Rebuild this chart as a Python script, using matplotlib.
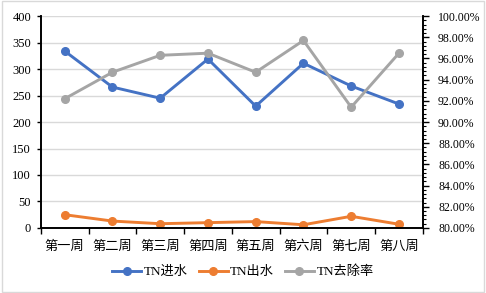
import matplotlib
matplotlib.use("Agg")
import matplotlib.pyplot as plt
from matplotlib.ticker import MultipleLocator, FuncFormatter
from matplotlib.patches import Rectangle

plt.rcParams['font.family'] = ['Liberation Serif', 'Noto Sans CJK SC']

weeks = ['第一周', '第二周', '第三周', '第四周', '第五周', '第六周', '第七周', '第八周']
tn_in = [334, 266, 245, 319, 230, 311, 268, 234]
tn_out = [25, 13, 8, 10, 12, 6, 22, 7]
tn_rate = [92.2, 94.7, 96.3, 96.5, 94.7, 97.7, 91.4, 96.5]

blue = '#4472C4'
orange = '#ED7D31'
gray = '#A5A5A5'

fig = plt.figure(figsize=(4.86, 2.93), dpi=100)
fig.patches.append(Rectangle((0.004, 0.005), 0.992, 0.99, transform=fig.transFigure,
                             fill=False, edgecolor='#D9D9D9', linewidth=1))
ax = fig.add_axes([0.084, 0.222, 0.786, 0.723])
ax2 = ax.twinx()

x = list(range(len(weeks)))
l1, = ax.plot(x, tn_in, color=blue, lw=2.1, marker='o', ms=5.5, label='TN进水')
l2, = ax.plot(x, tn_out, color=orange, lw=2.1, marker='o', ms=5.5, label='TN出水')
l3, = ax2.plot(x, tn_rate, color=gray, lw=2.1, marker='o', ms=5.5, label='TN去除率')

ax.set_xlim(-0.5, 7.5)
ax.set_ylim(0, 400)
ax.yaxis.set_major_locator(MultipleLocator(50))
ax2.set_ylim(80, 100)
ax2.yaxis.set_major_locator(MultipleLocator(2))
ax2.yaxis.set_minor_locator(MultipleLocator(0.4))
ax2.yaxis.set_major_formatter(FuncFormatter(lambda v, p: f'{v:.2f}%'))

ax.set_xticks(x)
ax.set_xticklabels(weeks, fontsize=9.5)
ax.set_xticks([i - 0.5 for i in range(len(weeks) + 1)], minor=True)
ax.tick_params(axis='x', which='major', length=0, pad=9)
ax.tick_params(axis='x', which='minor', length=4, direction='out', width=1)
ax.tick_params(axis='y', labelsize=9, length=3, width=1, direction='out', pad=4)
ax2.tick_params(axis='y', which='major', labelsize=8.5, length=4, width=1, direction='out', pad=7)
ax2.tick_params(axis='y', which='minor', length=2, width=0.8, direction='out')

ax.grid(axis='y', color='#D9D9D9', lw=1)
ax.set_axisbelow(True)
for a in (ax, ax2):
    a.spines['top'].set_visible(False)
    a.spines['left'].set_linewidth(1.2)
    a.spines['right'].set_linewidth(1.2)
    a.spines['bottom'].set_linewidth(1.2)

fig.legend(handles=[l1, l2, l3], loc='center', bbox_to_anchor=(0.5, 0.072), ncol=3,
           frameon=False, fontsize=9.5, handlelength=2.2, columnspacing=0.8, handletextpad=0.2)

fig.savefig('out.png', dpi=100)
